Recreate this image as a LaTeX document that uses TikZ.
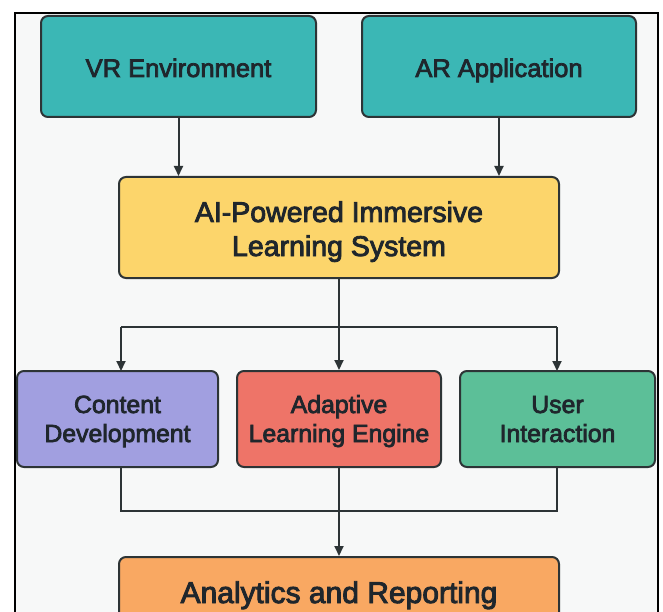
\documentclass[tikz,border=0pt]{standalone}
\usepackage{fontspec}
\setmainfont{Liberation Sans}[FakeBold=3]
\usetikzlibrary{arrows.meta}
\definecolor{bg}{HTML}{F7F8F8}
\definecolor{teal}{HTML}{3BB7B5}
\definecolor{yel}{HTML}{FCD56B}
\definecolor{purp}{HTML}{A19FE0}
\definecolor{salm}{HTML}{EE7468}
\definecolor{grn}{HTML}{5CBF98}
\definecolor{orng}{HTML}{F9A862}
\definecolor{edge}{HTML}{2D3436}
\definecolor{txt}{HTML}{1F262C}
\tikzset{
  boxstyle/.style={draw=edge, line width=2pt, rounded corners=7pt, inner sep=0pt},
  lbl/.style={text=txt, inner sep=0pt, anchor=base},
  big/.style={lbl, font=\fontsize{25.5}{30}\selectfont},
  mid/.style={lbl, font=\fontsize{24.8}{29}\selectfont},
  yl/.style={lbl, font=\fontsize{28.5}{34}\selectfont},
  ol/.style={lbl, font=\fontsize{30}{36}\selectfont},
  conn/.style={draw=edge, line width=2pt},
  arr/.style={conn, -{Triangle[length=10pt,width=9pt]}},
}
\begin{document}
\begin{tikzpicture}[x=1pt,y=-1pt]
\useasboundingbox (0,0) rectangle (663,612);
\clip (0,0) rectangle (663,612);
\fill[white] (0,0) rectangle (663,612);
\fill[bg] (15,13) rectangle (658,612);
\draw[black, line width=1.5pt] (15,612) -- (15,13) -- (658,13) -- (658,612);

\node[boxstyle, fill=teal, minimum width=275pt, minimum height=101pt] (vr) at (178.5,66.5) {};
\node[big] (vrt) at (178.5,77) {VR Environment};
\node[boxstyle, fill=teal, minimum width=274pt, minimum height=101pt] (ar) at (499,66.5) {};
\node[big] (art) at (499,77) {AR Application};

\node[boxstyle, fill=yel, minimum width=440pt, minimum height=101pt] (ai) at (339,227.5) {};
\node[yl] (ait1) at (339,222) {AI-Powered Immersive};
\node[yl] (ait2) at (339,256) {Learning System};

\node[boxstyle, fill=purp, minimum width=201pt, minimum height=96pt] (cd) at (117.5,419) {};
\node[mid] (cdt1) at (117.5,413) {Content};
\node[mid] (cdt2) at (117.5,442) {Development};
\node[boxstyle, fill=salm, minimum width=204pt, minimum height=96pt] (al) at (339,419) {};
\node[mid] (alt1) at (339,413) {Adaptive};
\node[mid] (alt2) at (339,442) {Learning Engine};
\node[boxstyle, fill=grn, minimum width=195pt, minimum height=96pt] (ui) at (557.5,419) {};
\node[mid] (uit1) at (557.5,413) {User};
\node[mid] (uit2) at (557.5,442) {Interaction};

\node[boxstyle, fill=orng, minimum width=440pt, minimum height=101pt] (an) at (339,607.5) {};
\node[ol] (ant) at (339,603) {Analytics and Reporting};

\draw[arr] (vr.south) -- (vr.south |- ai.north);
\draw[arr] (ar.south) -- (ar.south |- ai.north);

\coordinate (split) at (339,327);
\coordinate (cdtop) at (121,371);
\coordinate (uitop) at (557,371);
\draw[conn] (ai.south) -- (split);
\draw[conn] (cdtop |- split) -- (uitop |- split);
\draw[arr] (cdtop |- split) -- (cdtop);
\draw[arr] (split) -- (al.north);
\draw[arr] (uitop |- split) -- (uitop);

\coordinate (merge) at (339,511);
\coordinate (cdbot) at (121,467);
\coordinate (uibot) at (557,467);
\draw[conn] (cdbot) -- (cdbot |- merge) -- (uibot |- merge) -- (uibot);
\draw[conn] (al.south) -- (merge);
\draw[arr] (merge) -- (an.north);
\end{tikzpicture}
\end{document}
